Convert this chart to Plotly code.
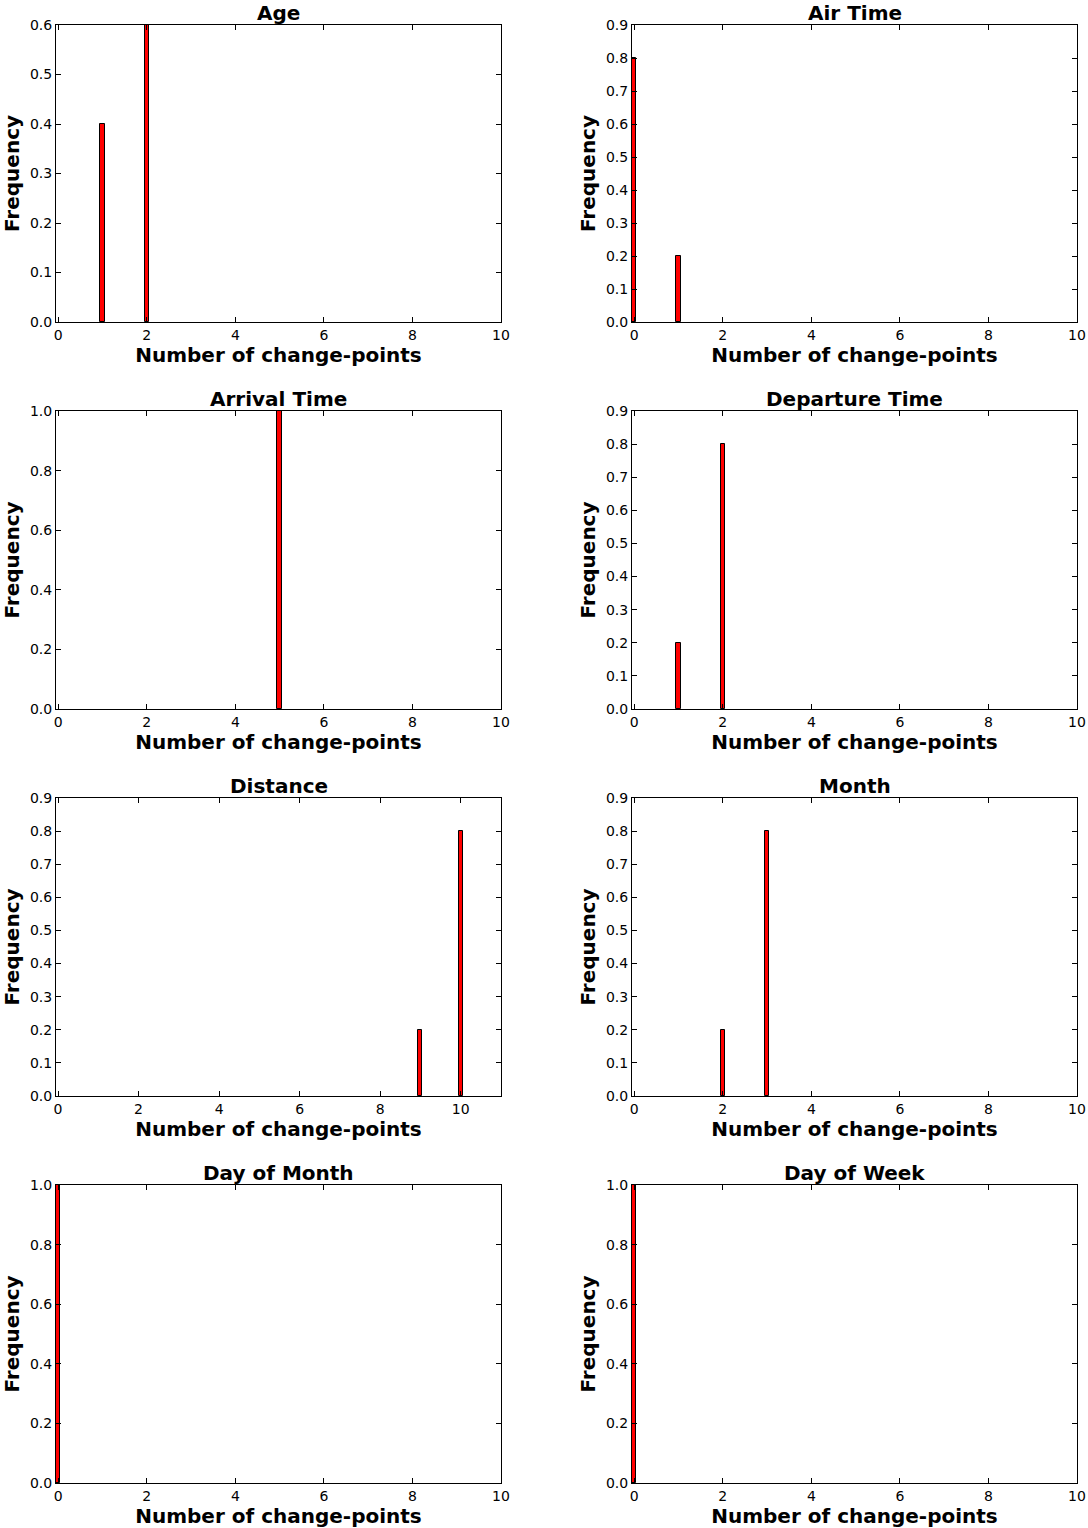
import plotly.graph_objects as go

titles = ["Age", "Air Time", "Arrival Time", "Departure Time",
          "Distance", "Month", "Day of Month", "Day of Week"]
xs = [[1, 2], [0, 1], [5], [1, 2], [9, 10], [2, 3], [0], [0]]
ys = [[0.4, 0.6], [0.8, 0.2], [1.0], [0.2, 0.8], [0.2, 0.8], [0.2, 0.8], [1.0], [1.0]]
ymax = [0.6, 0.9, 1.0, 0.9, 0.9, 0.9, 1.0, 1.0]
ydtick = [0.1, 0.1, 0.2, 0.1, 0.1, 0.1, 0.2, 0.2]
xmax = [10, 10, 10, 10, 11, 10, 10, 10]

W, H = 1088, 1528
col_px = [(56, 501), (632, 1077)]
row_px = [(25, 322), (411, 709), (798, 1096), (1185, 1483)]
ytitle_standoff = [14, 4]

FONT = "DejaVu Sans"
fig = go.Figure()
annotations = []
for i, t in enumerate(titles):
    r, c = divmod(i, 2)
    n = i + 1
    xa = "x" if n == 1 else f"x{n}"
    ya = "y" if n == 1 else f"y{n}"
    fig.add_trace(go.Bar(x=xs[i], y=ys[i], width=0.1, xaxis=xa, yaxis=ya,
                         marker=dict(color="#ff0000", line=dict(color="black", width=1)),
                         showlegend=False))
    x0, x1 = col_px[c]
    y0, y1 = row_px[r]
    xdom = [x0 / W, x1 / W]
    ydom = [1 - y1 / H, 1 - y0 / H]
    common = dict(showline=True, linecolor="black", linewidth=1, mirror="allticks",
                  ticks="inside", ticklen=5, tickcolor="black", showgrid=False,
                  zeroline=False, automargin=False,
                  tickfont=dict(family=FONT, size=14, color="black"))
    fig.layout[("xaxis" if n == 1 else f"xaxis{n}")] = dict(
        domain=xdom, anchor=ya, range=[-0.05, xmax[i]], dtick=2, tick0=0,
        title=dict(text="<b>Number of change-points</b>", standoff=6,
                   font=dict(family=FONT, size=20, color="black")), **common)
    fig.layout[("yaxis" if n == 1 else f"yaxis{n}")] = dict(
        domain=ydom, anchor=xa, range=[0, ymax[i]], dtick=ydtick[i], tick0=0,
        tickformat=".1f",
        title=dict(text="<b>Frequency</b>", standoff=ytitle_standoff[c],
                   font=dict(family=FONT, size=20, color="black")), **common)
    annotations.append(dict(text=f"<b>{t}</b>", x=(xdom[0] + xdom[1]) / 2, y=ydom[1],
                            xref="paper", yref="paper", xanchor="center", yanchor="bottom",
                            showarrow=False, yshift=-2,
                            font=dict(family=FONT, size=20, color="black")))

fig.update_layout(width=W, height=H, margin=dict(l=0, r=0, t=0, b=0),
                  plot_bgcolor="white", paper_bgcolor="white",
                  annotations=annotations, bargap=0)
fig.write_html("out.html", config={"displayModeBar": False},
               post_script="document.body.style.margin='0';document.body.style.overflow='hidden';")
